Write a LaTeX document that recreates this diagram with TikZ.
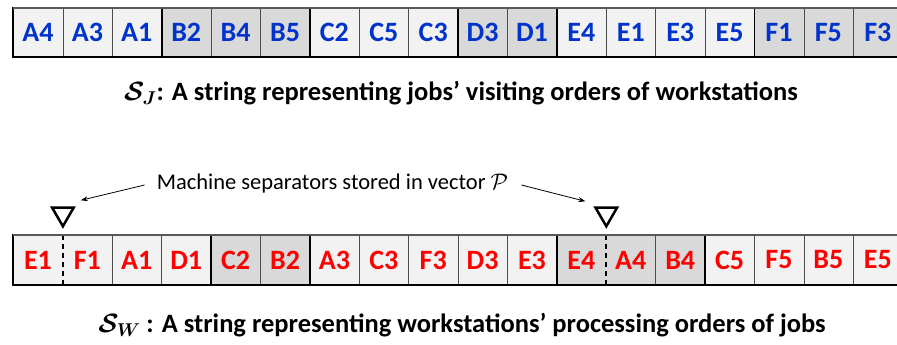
\RequirePackage{fix-cm}
\documentclass[tikz,border=0pt]{standalone}
\usepackage{amsmath,amssymb}
\usepackage{fontspec}
\setmainfont{Carlito}
\usetikzlibrary{shapes.geometric,arrows.meta}

\definecolor{jobblue}{RGB}{0,51,204}
\definecolor{cellL}{RGB}{242,242,242}
\definecolor{cellD}{RGB}{217,217,217}

\tikzset{
  cell/.style={minimum width=49.4pt, minimum height=#1, inner sep=0pt,
    font={\fontsize{28}{32}\selectfont\bfseries}},
  thinsep/.style={line width=0.8pt, black!70},
  groupsep/.style={line width=1.8pt, black},
  dashsep/.style={line width=2.2pt, black, dash pattern=on 5pt off 4pt},
  frame/.style={line width=2pt, black},
  sepmark/.style={regular polygon, regular polygon sides=3, shape border rotate=180,
    minimum size=25pt, inner sep=0pt, draw, line width=2.5pt},
  pointer/.style={line width=0.8pt, -{Stealth[length=7pt,width=5pt]}},
  caption/.style={inner sep=0pt, font={\fontsize{26.5}{30}\selectfont\bfseries}},
  note/.style={inner sep=0pt, font={\fontsize{22.5}{26}\selectfont}},
}

\begin{document}
\begin{tikzpicture}[x=1pt,y=1pt]
\useasboundingbox (0,0) rectangle (897,345);

% --- job string S_J ---
\foreach \lab/\shade [count=\i] in {A4/L,A3/L,A1/L,B2/D,B4/D,B5/D,C2/L,C5/L,C3/L,D3/D,D1/D,E4/L,E1/L,E3/L,E5/L,F1/D,F5/D,F3/D}
  \node[cell=48pt, fill=cell\shade, text=jobblue] (j\i) at ({13.3+49.4*\i-24.7}, 312.5) {\lab};
\foreach \i in {1,2,4,5,7,8,10,12,13,14,16,17}
  \draw[thinsep] (j\i.north east) -- (j\i.south east);
\foreach \i in {3,6,9,11,15}
  \draw[groupsep] (j\i.north east) -- (j\i.south east);
\draw[frame] (j1.north west) rectangle (j18.south east);
\draw[line width=2pt, black!65] (j1.north west) -- (j18.north east);

\node[caption] (capJ) at (461, 252)
  {$\boldsymbol{\mathcal{S}_J}$: A string representing jobs’ visiting orders of workstations};

% --- workstation string S_W ---
\foreach \lab/\shade [count=\i] in {E1/L,F1/L,A1/L,D1/L,C2/D,B2/D,A3/L,C3/L,F3/L,D3/L,E3/L,E4/D,A4/D,B4/D,C5/L,F5/L,B5/L,E5/L}
  \node[cell=50pt, fill=cell\shade, text=red] (w\i) at ({13.3+49.4*\i-24.7}, 85) {\lab};
\foreach \i in {2,3,5,7,8,9,10,13,15,16,17}
  \draw[thinsep] (w\i.north east) -- (w\i.south east);
\foreach \i in {4,6,11,14}
  \draw[groupsep] (w\i.north east) -- (w\i.south east);
\foreach \i in {1,12}
  \draw[dashsep] (w\i.north east) -- (w\i.south east);
\draw[frame] (w1.north west) rectangle (w18.south east);
\draw[line width=2pt, black!65] (w1.north west) -- (w18.north east);

% machine separator markers
\node[sepmark, anchor=corner 1] (tri1) at ([yshift=6pt]w1.north east) {};
\node[sepmark, anchor=corner 1] (tri2) at ([yshift=6pt]w12.north east) {};

\node[note] (sep) at (332.5, 161)
  {Machine separators stored in vector $\mathcal{P}$};
\draw[pointer] ([shift={(-12pt,-1pt)}]sep.west) -- ([shift={(5pt,6pt)}]tri1.corner 2);
\draw[pointer] ([shift={(13pt,-1pt)}]sep.east) -- ([shift={(-8pt,5pt)}]tri2.corner 3);

\node[caption] (capW) at (462, 20)
  {$\boldsymbol{\mathcal{S}_W}$ : A string representing workstations’ processing orders of jobs};
\end{tikzpicture}
\end{document}
